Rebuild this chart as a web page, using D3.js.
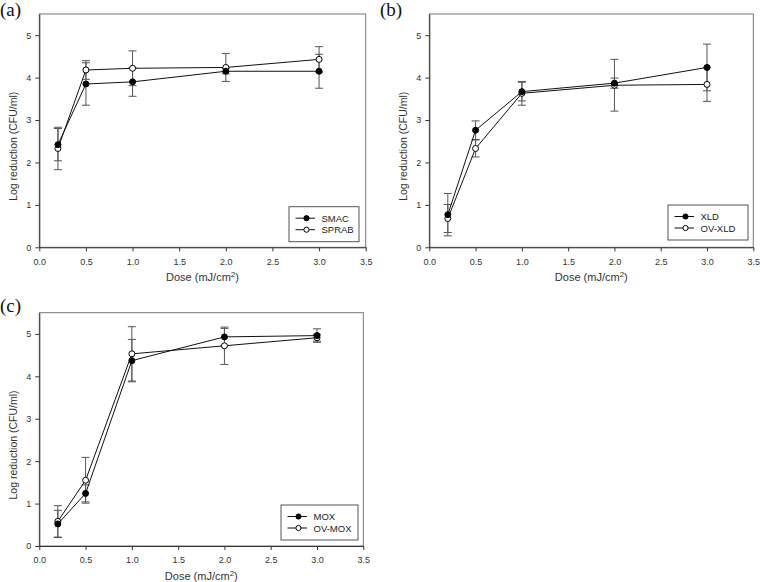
<!DOCTYPE html>
<html>
<head>
<meta charset="utf-8">
<script src="https://cdn.jsdelivr.net/npm/d3@7"></script>
<style>
body{margin:0;background:#fff;}
svg{display:block;}
text{font-family:"Liberation Sans",Arial,sans-serif;}
</style>
</head>
<body>
<svg id="chart" width="760" height="582"></svg>
<script>
const doses = [0.2, 0.5, 1.0, 2.0, 3.0];
const xTicks = [0, 0.5, 1.0, 1.5, 2.0, 2.5, 3.0, 3.5];
const yTicks = [0, 1, 2, 3, 4, 5];

// Panel (a)
const smac = [2.42, 3.85, 3.90, 4.15, 4.15];
const smacErr = [0.38, 0.50, 0.34, 0.06, 0.40];
const sprab = [2.33, 4.18, 4.22, 4.24, 4.43];
const sprabErr = [0.50, 0.22, 0.41, 0.33, 0.30];
// Panel (b)
const xld = [0.77, 2.76, 3.67, 3.87, 4.24];
const xldErr = [0.50, 0.22, 0.22, 0.12, 0.55];
const ovxld = [0.68, 2.33, 3.63, 3.82, 3.84];
const ovxldErr = [0.33, 0.20, 0.28, 0.61, 0.40];
// Panel (c)
const mox = [0.52, 1.24, 4.37, 4.93, 4.96];
const moxErr = [0.32, 0.20, 0.50, 0.20, 0.16];
const ovmox = [0.58, 1.55, 4.53, 4.72, 4.91];
const ovmoxErr = [0.37, 0.54, 0.64, 0.44, 0.08];

const panels = [
  {label:"(a)", labelY:16, ox:0, oy:0, left:39.3, right:365.7, top:14, bottom:247.3,
   s:[{name:"SMAC", v:smac, e:smacErr, filled:true},{name:"SPRAB", v:sprab, e:sprabErr, filled:false}],
   leg:{x:289, y:206.7, w:70, h:35}},
  {label:"(b)", labelY:16, ox:380, oy:0, left:49.3, right:373.3, top:14, bottom:247.3,
   s:[{name:"XLD", v:xld, e:xldErr, filled:true},{name:"OV-XLD", v:ovxld, e:ovxldErr, filled:false}],
   leg:{x:288, y:205, w:80, h:35}},
  {label:"(c)", labelY:22, ox:0, oy:290, left:39.3, right:363.3, top:22.7, bottom:256,
   s:[{name:"MOX", v:mox, e:moxErr, filled:true},{name:"OV-MOX", v:ovmox, e:ovmoxErr, filled:false}],
   leg:{x:281, y:215, w:77, h:35}}
];

const svg = d3.select("#chart");

panels.forEach(p => {
  const g = svg.append("g").attr("transform", `translate(${p.ox},${p.oy})`);
  const x = d3.scaleLinear().domain([0, 3.5]).range([p.left, p.right]);
  const y = d3.scaleLinear().domain([0, 5.5]).range([p.bottom, p.top]);

  // panel label
  g.append("text").attr("x", 0).attr("y", p.labelY)
    .style("font-family", "'Liberation Serif','Times New Roman',serif")
    .style("font-size", "19px").attr("fill", "#111").text(p.label);

  // frame
  g.append("rect").attr("x", p.left).attr("y", p.top)
    .attr("width", p.right - p.left).attr("height", p.bottom - p.top)
    .attr("fill", "none").attr("stroke", "#777").attr("stroke-width", 1);

  // axes
  const xa = g.append("g").attr("transform", `translate(0,${p.bottom})`)
    .call(d3.axisBottom(x).tickValues(xTicks).tickFormat(d3.format(".1f")).tickSize(4).tickPadding(7).tickSizeOuter(0));
  const ya = g.append("g").attr("transform", `translate(${p.left},0)`)
    .call(d3.axisLeft(y).tickValues(yTicks).tickFormat(d3.format("d")).tickSize(4).tickPadding(4).tickSizeOuter(0));
  [xa, ya].forEach(a => {
    a.select(".domain").attr("stroke", "#333");
    a.selectAll(".tick line").attr("stroke", "#333");
    a.selectAll(".tick text").attr("fill", "#333").style("font-size", "9px");
  });

  // axis titles
  const xt = g.append("text").attr("x", (p.left + p.right) / 2).attr("y", p.bottom + 34)
    .attr("text-anchor", "middle").attr("fill", "#333").style("font-size", "11px");
  xt.append("tspan").text("Dose (mJ/cm");
  xt.append("tspan").attr("dy", -4).style("font-size", "8px").text("2");
  xt.append("tspan").attr("dy", 4).text(")");

  g.append("text")
    .attr("transform", `translate(${p.left - 22},${(p.bottom + y(5)) / 2 + 5}) rotate(-90)`)
    .attr("text-anchor", "middle").attr("fill", "#333").style("font-size", "10.5px")
    .text("Log reduction (CFU/ml)");

  // error bars
  p.s.forEach(s => {
    const eb = g.append("g").attr("stroke", "#555").attr("stroke-width", 1);
    doses.forEach((d, i) => {
      const cx = x(d), y1 = y(s.v[i] + s.e[i]), y0 = y(s.v[i] - s.e[i]);
      eb.append("line").attr("x1", cx).attr("x2", cx).attr("y1", y1).attr("y2", y0);
      eb.append("line").attr("x1", cx - 4).attr("x2", cx + 4).attr("y1", y1).attr("y2", y1);
      eb.append("line").attr("x1", cx - 4).attr("x2", cx + 4).attr("y1", y0).attr("y2", y0);
    });
  });

  // lines
  const line = d3.line().x((d, i) => x(doses[i])).y(d => y(d));
  p.s.forEach(s => {
    g.append("path").datum(s.v).attr("d", line)
      .attr("fill", "none").attr("stroke", "#111").attr("stroke-width", 1);
  });

  // markers
  p.s.slice().reverse().forEach(s => {
    g.selectAll(null).data(s.v).enter().append("circle")
      .attr("cx", (d, i) => x(doses[i])).attr("cy", d => y(d)).attr("r", 3)
      .attr("fill", s.filled ? "#000" : "#fff").attr("stroke", "#000").attr("stroke-width", 1);
  });

  // legend
  const L = p.leg;
  const lg = g.append("g");
  lg.append("rect").attr("x", L.x).attr("y", L.y).attr("width", L.w).attr("height", L.h)
    .attr("fill", "#fff").attr("stroke", "#555").attr("stroke-width", 1);
  p.s.forEach((s, k) => {
    const ry = L.y + 11.5 + k * 11.5;
    lg.append("line").attr("x1", L.x + 6.5).attr("x2", L.x + 26).attr("y1", ry).attr("y2", ry)
      .attr("stroke", "#111").attr("stroke-width", 1);
    lg.append("circle").attr("cx", L.x + 17.5).attr("cy", ry).attr("r", 2.6)
      .attr("fill", s.filled ? "#000" : "#fff").attr("stroke", "#000");
    lg.append("text").attr("x", L.x + 32.5).attr("y", ry + 3.5).attr("fill", "#222")
      .style("font-size", "9.5px").text(s.name);
  });
});
</script>
</body>
</html>
